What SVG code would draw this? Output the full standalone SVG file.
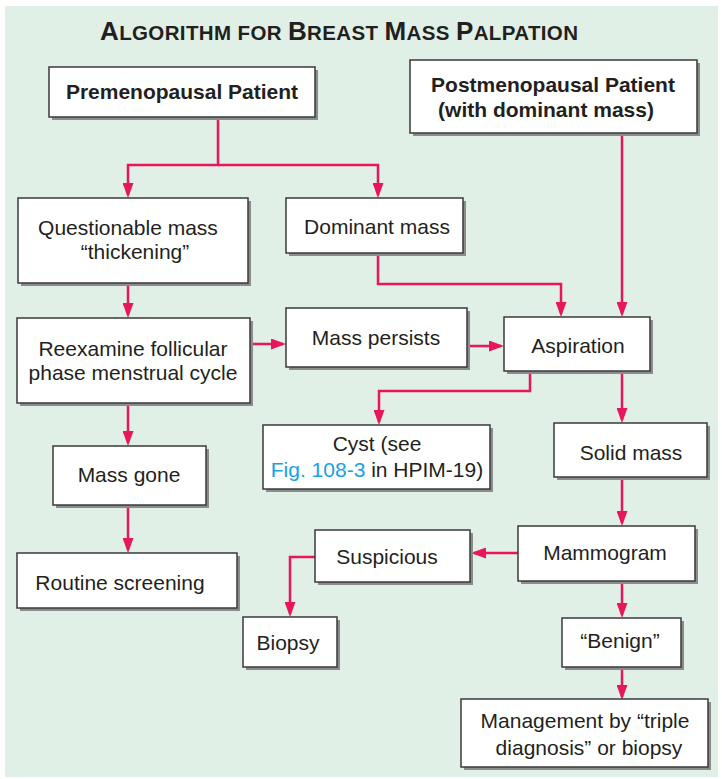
<svg xmlns="http://www.w3.org/2000/svg" width="722" height="779" viewBox="0 0 722 779">
<style>
.box{fill:#ffffff;stroke:#3a3a3a;stroke-width:1.5}
.sh{fill:#8c8c8c}
.t{font-family:"Liberation Sans",Arial,sans-serif;font-size:21px;fill:#231f20;text-anchor:middle}
.b{font-weight:bold}
.c{fill:none;stroke:#e8175d;stroke-width:2.5;marker-end:url(#ah)}
.link{fill:#1ba1e2}
</style>
<defs>
<marker id="ah" markerWidth="15" markerHeight="11" refX="12" refY="5.5" orient="auto" markerUnits="userSpaceOnUse">
<path d="M0,0 L15,5.5 L0,11 z" fill="#e8175d"/>
</marker>
</defs>
<rect x="5" y="6" width="713" height="771" fill="#e1f0e6"/>
<text x="100" y="40" font-family="'Liberation Sans',Arial,sans-serif" font-weight="bold" font-size="26" fill="#231f20" textLength="478">A<tspan font-size="20.5">LGORITHM FOR </tspan>B<tspan font-size="20.5">REAST </tspan>M<tspan font-size="20.5">ASS </tspan>P<tspan font-size="20.5">ALPATION</tspan></text>

<g id="connectors">
<path class="c" d="M218,117 V165 H128 V195"/>
<path class="c" d="M218,165 H378 V195"/>
<path class="c" d="M128,283 V315"/>
<path class="c" d="M250,344 H283"/>
<path class="c" d="M467,346 H501"/>
<path class="c" d="M378,253 V284 H561 V314"/>
<path class="c" d="M622,133 V314"/>
<path class="c" d="M530,372 V391 H379 V422"/>
<path class="c" d="M622,372 V420"/>
<path class="c" d="M128,403 V443"/>
<path class="c" d="M128,505 V550"/>
<path class="c" d="M622,478 V523"/>
<path class="c" d="M518,553 H474"/>
<path class="c" d="M315,557 H290 V614"/>
<path class="c" d="M622,581 V615"/>
<path class="c" d="M622,667 V697"/>
</g>

<g id="premenopausal">
<rect class="sh" x="52" y="70" width="266" height="50"/>
<rect class="box" x="49" y="67" width="266" height="50"/>
<text class="t b" x="182" y="99">Premenopausal Patient</text>
</g>
<g id="postmenopausal">
<rect class="sh" x="413" y="63" width="287" height="73"/>
<rect class="box" x="410" y="60" width="287" height="73"/>
<text class="t b" x="553" y="92">Postmenopausal Patient</text>
<text class="t b" x="546" y="117">(with dominant mass)</text>
</g>
<g id="questionable">
<rect class="sh" x="21" y="201" width="230" height="85"/>
<rect class="box" x="18" y="198" width="230" height="85"/>
<text class="t" x="128" y="235">Questionable mass</text>
<text class="t" x="135" y="259">“thickening”</text>
</g>
<g id="dominant">
<rect class="sh" x="289" y="201" width="177" height="55"/>
<rect class="box" x="286" y="198" width="177" height="55"/>
<text class="t" x="377" y="234">Dominant mass</text>
</g>
<g id="reexamine">
<rect class="sh" x="20" y="321" width="233" height="85"/>
<rect class="box" x="17" y="318" width="233" height="85"/>
<text class="t" x="133" y="356">Reexamine follicular</text>
<text class="t" x="133" y="380">phase menstrual cycle</text>
</g>
<g id="persists">
<rect class="sh" x="289" y="311" width="181" height="59"/>
<rect class="box" x="286" y="308" width="181" height="59"/>
<text class="t" x="376" y="345">Mass persists</text>
</g>
<g id="aspiration">
<rect class="sh" x="507" y="320" width="146" height="54"/>
<rect class="box" x="504" y="317" width="146" height="54"/>
<text class="t" x="578" y="353">Aspiration</text>
</g>
<g id="cyst">
<rect class="sh" x="266" y="428" width="227" height="64"/>
<rect class="box" x="263" y="425" width="227" height="64"/>
<text class="t" x="377" y="451">Cyst (see</text>
<text class="t" x="377" y="477"><tspan class="link">Fig. 108-3</tspan> in HPIM-19)</text>
</g>
<g id="solid">
<rect class="sh" x="557" y="426" width="153" height="54"/>
<rect class="box" x="554" y="423" width="153" height="54"/>
<text class="t" x="631" y="460">Solid mass</text>
</g>
<g id="massgone">
<rect class="sh" x="56" y="449" width="153" height="59"/>
<rect class="box" x="53" y="446" width="153" height="59"/>
<text class="t" x="129" y="482">Mass gone</text>
</g>
<g id="routine">
<rect class="sh" x="20" y="556" width="220" height="55"/>
<rect class="box" x="17" y="553" width="220" height="55"/>
<text class="t" x="120" y="590">Routine screening</text>
</g>
<g id="mammogram">
<rect class="sh" x="521" y="529" width="177" height="55"/>
<rect class="box" x="518" y="526" width="177" height="55"/>
<text class="t" x="605" y="560">Mammogram</text>
</g>
<g id="suspicious">
<rect class="sh" x="318" y="533" width="155" height="52"/>
<rect class="box" x="315" y="530" width="155" height="52"/>
<text class="t" x="387" y="564">Suspicious</text>
</g>
<g id="biopsy">
<rect class="sh" x="246" y="620" width="94" height="50"/>
<rect class="box" x="243" y="617" width="94" height="50"/>
<text class="t" x="288" y="650">Biopsy</text>
</g>
<g id="benign">
<rect class="sh" x="565" y="621" width="119" height="49"/>
<rect class="box" x="562" y="618" width="119" height="49"/>
<text class="t" x="620" y="648">“Benign”</text>
</g>
<g id="management">
<rect class="sh" x="464" y="702" width="247" height="68"/>
<rect class="box" x="461" y="699" width="247" height="68"/>
<text class="t" x="585" y="728">Management by “triple</text>
<text class="t" x="589" y="755">diagnosis” or biopsy</text>
</g>
</svg>
